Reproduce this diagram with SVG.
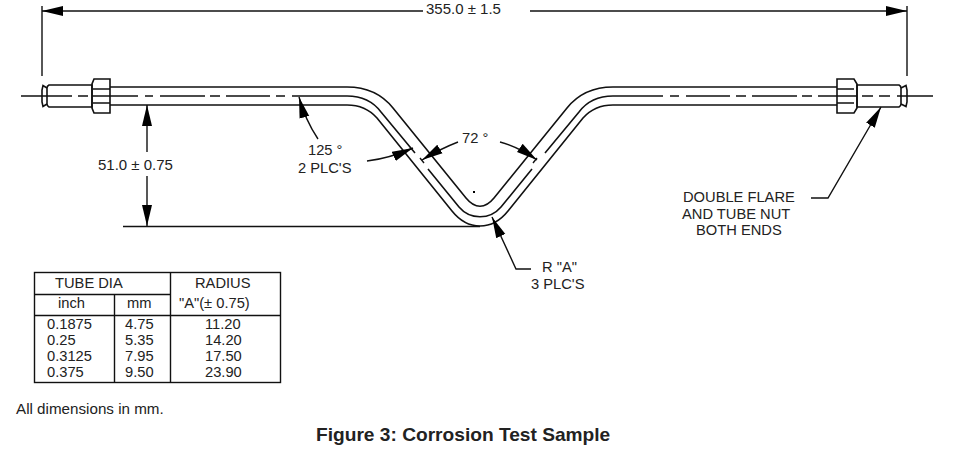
<svg xmlns="http://www.w3.org/2000/svg" width="953" height="450" viewBox="0 0 953 450">
<style>
text{font-family:"Liberation Sans",Arial,sans-serif;font-size:14.700px;fill:#222}
.d{font-size:15px}
.l{fill:none;stroke:#111;stroke-width:1.4}
.t{fill:none;stroke:#111;stroke-width:1.6}
.g{fill:none;stroke:#111;stroke-width:1.6}
</style>
<defs>
<marker id="arr" markerUnits="userSpaceOnUse" markerWidth="22" markerHeight="12" refX="21" refY="6" orient="auto"><path fill="#000" d="M0 1L21 6L0 11Z"/></marker>
</defs>
<rect width="953" height="450" fill="#fff"/>
<g id="tube">
<path class="t" d="M110 87H347C366 87 381 93 393 108L466 198C475 209 485 209 494 198L567 108C579 93 594 87 613 87H837"/>
<path class="t" d="M110 105H347C358 105 369 109 377 118L452 211C468 231 492 231 508 211L583 118C591 109 602 105 613 105H837"/>
<path class="t" d="M298 96H347C361 96 372 100 381 112L415 153M428 169L459 207C470 220 490 220 501 207L532 169M545 153L579 112C588 100 599 96 613 96H663"/>
<path class="l" d="M21 96H72M78 96H88M92 96H138M145 96H153M160 96H205M210 96H220M226 96H270M276 96H285M292 96H298M670 96H679M686 96H730M736 96H746M752 96H797M802 96H812M818 96H857M862 96H873M879 96H890M897 96H933"/>
</g>
<g id="fitting-left">
<path class="g" d="M49 85H92V107H49Q47 106 47 104V88Q47 86 49 85Z"/>
<path class="g" d="M47 88L43 85.500L42 90V102L43 106.500L47 104"/>
<path class="g" d="M94 79H110V113H94L92 108V84Z"/>
<path class="g" d="M93 89H110M93 103H110"/>
</g>
<g id="fitting-right">
<path class="g" d="M857 85H899Q901 86 901 88V104Q901 106 899 107H857Z"/>
<path class="g" d="M901 88L906 85.500L907 90V102L906 106.500L901 104"/>
<path class="g" d="M837 79H854L857 84V108L854 113H837Z"/>
<path class="g" d="M837 89H854M837 103H854"/>
</g>
<g id="connectors">
<path class="l" d="M42 6V76M907 6V76"/>
<path class="l" marker-end="url(#arr)" d="M423 11H42"/>
<path class="l" marker-end="url(#arr)" d="M530 11H907"/>
<path class="l" d="M123 226.500H480"/>
<path class="l" marker-end="url(#arr)" d="M147 152V105"/>
<path class="l" marker-end="url(#arr)" d="M147 176V226"/>
<path class="l" marker-end="url(#arr)" d="M318 139C308 124 303 112 299 97"/>
<path class="l" marker-end="url(#arr)" d="M367 161C385 159 397 155 413 148"/>
<path class="l" marker-end="url(#arr)" d="M458 142C445 147 435 152 422 160"/>
<path class="l" marker-end="url(#arr)" d="M500 142C515 146 527 153 537 160"/>
<path class="l" d="M420 158L424 163M537 158L533 163"/>
<path class="l" marker-end="url(#arr)" d="M531 269H516L492 217"/>
<path class="l" marker-end="url(#arr)" d="M811 198H828L881 107"/>
</g>
<g id="labels">
<text class="d" x="426" y="14">355.0 ± 1.5</text>
<text class="d" x="98" y="170">51.0 ± 0.75</text>
<text x="308" y="155">125 °</text>
<text x="298" y="173">2 PLC'S</text>
<text x="462" y="143">72 °</text>
<text x="542" y="272">R "A"</text>
<text x="531" y="289">3 PLC'S</text>
<text x="683" y="202">DOUBLE FLARE</text>
<text x="682" y="219">AND TUBE NUT</text>
<text x="696" y="235">BOTH ENDS</text>
<rect x="473" y="191" width="2" height="2" fill="#000"/>
</g>
<g id="table">
<rect x="34.500" y="272.500" width="246" height="110" fill="none" stroke="#111" stroke-width="1.400"/>
<path class="l" d="M170.500 272.500V382.500M34.500 294.500H170.500M34.500 315.500H280.500M114.500 294.500V382.500"/>
<text x="55" y="288">TUBE DIA</text>
<text x="195" y="288">RADIUS</text>
<text x="58" y="308">inch</text>
<text x="127" y="308">mm</text>
<text x="179" y="308">"A"(± 0.75)</text>
<text x="47" y="329">0.1875</text><text x="125" y="329">4.75</text><text x="205" y="329">11.20</text>
<text x="47" y="345">0.25</text><text x="125" y="345">5.35</text><text x="205" y="345">14.20</text>
<text x="47" y="361">0.3125</text><text x="125" y="361">7.95</text><text x="205" y="361">17.50</text>
<text x="47" y="377">0.375</text><text x="125" y="377">9.50</text><text x="205" y="377">23.90</text>
</g>
<text x="16" y="414" style="font-size:15.200px">All dimensions in mm.</text>
<text x="316" y="441" style="font-size:19.150px;font-weight:700">Figure 3: Corrosion Test Sample</text>
</svg>
